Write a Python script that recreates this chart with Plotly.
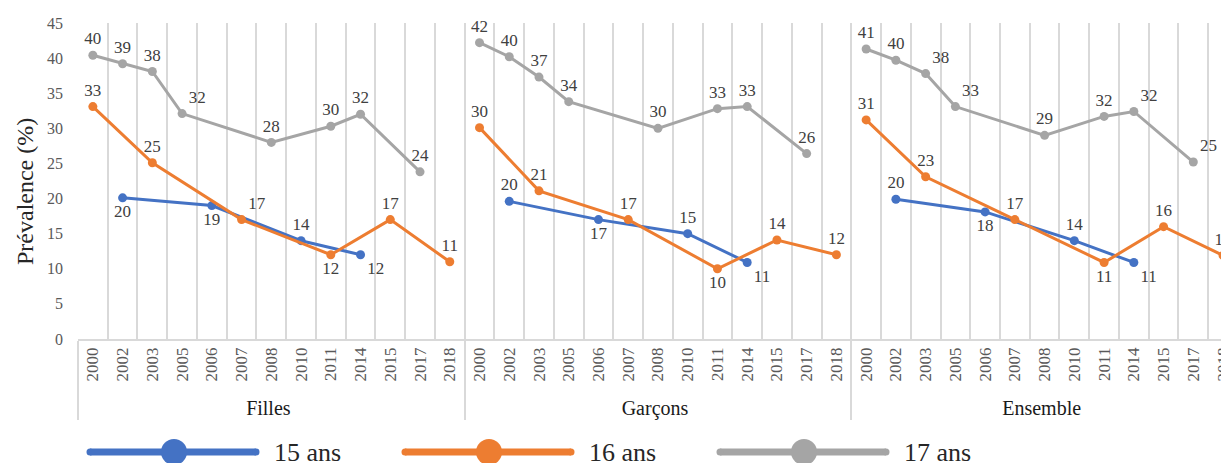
import plotly.graph_objects as go

# ---------------- data ----------------
groups = ["Filles", "Garçons", "Ensemble"]
years = ["2000", "2002", "2003", "2005", "2006", "2007", "2008",
         "2010", "2011", "2014", "2015", "2017", "2018"]
ages = ["15 ans", "16 ans", "17 ans"]

years_15 = ["2002", "2006", "2010", "2014"]
years_16 = ["2000", "2003", "2007", "2011", "2015", "2018"]
years_17 = ["2000", "2002", "2003", "2005", "2008", "2011", "2014", "2017"]

filles_15 = [20.1, 19.0, 14.0, 12.0]
filles_16 = [33.1, 25.1, 17.0, 12.0, 17.0, 11.0]
filles_17 = [40.4, 39.2, 38.1, 32.1, 28.0, 30.3, 32.0, 23.8]

garcons_15 = [19.6, 17.0, 15.0, 10.9]
garcons_16 = [30.1, 21.1, 17.0, 10.0, 14.1, 12.0]
garcons_17 = [42.2, 40.2, 37.3, 33.8, 30.0, 32.8, 33.1, 26.4]

ensemble_15 = [19.9, 18.1, 14.0, 10.9]
ensemble_16 = [31.2, 23.1, 17.0, 10.9, 16.0, 11.9]
ensemble_17 = [41.3, 39.7, 37.8, 33.1, 29.0, 31.7, 32.4, 25.2]

y_ticks = [0, 5, 10, 15, 20, 25, 30, 35, 40, 45]

# ---------------- styling ----------------
colors = {"15 ans": "#4472C4", "16 ans": "#ED7D31", "17 ans": "#A5A5A5"}
age_years = {"15 ans": years_15, "16 ans": years_16, "17 ans": years_17}
series = {
    ("Filles", "15 ans"): filles_15, ("Filles", "16 ans"): filles_16, ("Filles", "17 ans"): filles_17,
    ("Garçons", "15 ans"): garcons_15, ("Garçons", "16 ans"): garcons_16, ("Garçons", "17 ans"): garcons_17,
    ("Ensemble", "15 ans"): ensemble_15, ("Ensemble", "16 ans"): ensemble_16, ("Ensemble", "17 ans"): ensemble_17,
}
TC, BC, TR, BR = "top center", "bottom center", "top right", "bottom right"
label_pos = {
    ("Filles", "15 ans"): [BC, BC, TC, BR],
    ("Filles", "16 ans"): [TC, TC, TR, BC, TC, TC],
    ("Filles", "17 ans"): [TC, TC, TC, TR, TC, TC, TC, TC],
    ("Garçons", "15 ans"): [TC, BC, TC, BR],
    ("Garçons", "16 ans"): [TC, TC, TC, BC, TC, TC],
    ("Garçons", "17 ans"): [TC] * 8,
    ("Ensemble", "15 ans"): [TC, BC, TC, BR],
    ("Ensemble", "16 ans"): [TC, TC, TC, BC, TC, TC],
    ("Ensemble", "17 ans"): [TC, TC, TR, TR, TC, TC, TR, TR],
}

FONT = "Liberation Serif"
# group labels of the two-level axis drawn a little larger and darker than the years
group_label = {g: f"<span style='font-size:20px;color:#1a1a1a'>{g}</span>" for g in groups}

PAGE_OFF = 8                     # default body margin of the html page
W, H = 1229 - PAGE_OFF, 463 - PAGE_OFF
PLOT_L, PLOT_R, PLOT_T, PLOT_B = 78, 1229, 23, 339   # plot area in page pixels
ML = PLOT_L - PAGE_OFF
MR = 1229 - PLOT_R
MT = PLOT_T - PAGE_OFF
MB = 463 - PLOT_B
PW, PH = PLOT_R - PLOT_L, PLOT_B - PLOT_T

def px_x(px):
    return (px - PLOT_L) / PW

def px_y(py):
    return (PLOT_B - py) / PH

fig = go.Figure()

# invisible trace fixing the category order of the two-level axis
fig.add_trace(go.Scatter(
    x=[[group_label[g] for g in groups for _ in years], [y for _ in groups for y in years]],
    y=[None] * (len(groups) * len(years)),
    mode="markers", showlegend=False, hoverinfo="skip",
))

for g in groups:
    for a in ages:
        yrs = age_years[a]
        fig.add_trace(go.Scatter(
            x=[[group_label[g]] * len(yrs), yrs],
            y=series[(g, a)],
            mode="lines+markers+text",
            name=a,
            showlegend=False,
            line=dict(color=colors[a], width=3),
            marker=dict(color=colors[a], size=9),
            texttemplate="%{y:.0f}",
            textposition=label_pos[(g, a)],
            textfont=dict(family=FONT, size=17, color="#404040"),
            cliponaxis=False,
            hovertemplate=f"{g} %{{x}}<br>{a}: %{{y}}%<extra></extra>",
        ))

shapes = []
annotations = []
# custom legend
for i, a in enumerate(ages):
    xs = 90 + 315 * i
    xe = xs + 166
    yc = 452
    shapes.append(dict(type="line", xref="paper", yref="paper",
                       x0=px_x(xs), x1=px_x(xe), y0=px_y(yc), y1=px_y(yc),
                       line=dict(color=colors[a], width=7), layer="above"))
    for cx, r in ((xs, 3.5), (xe, 3.5), (xs + 84, 13)):
        shapes.append(dict(type="circle", xref="paper", yref="paper",
                           xsizemode="pixel", ysizemode="pixel",
                           xanchor=px_x(cx), yanchor=px_y(yc),
                           x0=-r, x1=r, y0=-r, y1=r,
                           fillcolor=colors[a], line=dict(width=0), layer="above"))
    annotations.append(dict(text=a, xref="paper", yref="paper",
                            x=px_x(xs + 182), y=px_y(yc), xanchor="left", yanchor="middle",
                            showarrow=False, font=dict(family=FONT, size=26, color="#262626")))

# y-axis title
annotations.append(dict(text="Prévalence (%)", xref="paper", yref="paper",
                        x=px_x(25), y=px_y(192), xanchor="center", yanchor="middle",
                        textangle=-90, showarrow=False,
                        font=dict(family=FONT, size=24, color="#262626")))

fig.update_layout(
    width=W, height=H,
    margin=dict(l=ML, r=MR, t=MT, b=MB, autoexpand=False),
    paper_bgcolor="white", plot_bgcolor="white",
    font=dict(family=FONT, color="#404040"),
    showlegend=False,
    shapes=shapes,
    annotations=annotations,
    xaxis=dict(
        type="multicategory",
        range=[-0.5, 38.2],
        tickangle=-90,
        tickson="boundaries",
        showgrid=True, gridcolor="#D9D9D9", gridwidth=1.5,
        showline=True, linecolor="#D9D9D9", linewidth=1.5,
        showdividers=True, dividercolor="#D9D9D9", dividerwidth=1.5,
        ticks="",
        tickfont=dict(family=FONT, size=17, color="#595959"),
        automargin=False,
        zeroline=False,
    ),
    yaxis=dict(
        range=[0, 45],
        tickvals=y_ticks,
        showgrid=False, zeroline=False, showline=False,
        ticks="", ticklabelstandoff=14,
        tickfont=dict(family=FONT, size=16, color="#595959"),
        automargin=False,
    ),
)

fig.write_html("out.html")
